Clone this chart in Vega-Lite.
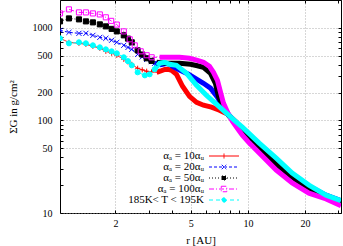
{
"$schema": "https://vega.github.io/schema/vega-lite/v6.json",
"width": 281,
"height": 213,
"autosize": {"type": "none"},
"padding": {"left": 60, "top": 0, "right": 2, "bottom": 33},
"background": "#ffffff",
"config": {
  "font": "Liberation Serif",
  "view": {"stroke": "#000000", "strokeWidth": 1},
  "axis": {"domain": false, "labelFont": "Liberation Serif", "labelFontSize": 10, "labelColor": "#000000", "titleFont": "Liberation Serif", "titleFontSize": 11, "titleFontWeight": "normal", "titleColor": "#000000", "tickColor": "#000000", "gridColor": "#9a9a9a", "gridDash": [1, 2], "gridWidth": 0.8, "labelFlush": false, "labelOverlap": false},
  "legend": {"symbolSize": 100, "symbolStrokeWidth": 1, "labelAlign": "right", "labelOffset": -25.5, "labelFontSize": 11, "labelFont": "Liberation Serif", "labelColor": "#000000", "rowPadding": -1, "padding": 0, "labelLimit": 300}
},
"resolve": {"scale": {"stroke": "independent", "fill": "independent", "shape": "independent", "strokeDash": "independent"}, "axis": {"x": "independent", "y": "independent"}},
"data": {"values": [
{"s":"a","r":1.02,"v":771},{"s":"a","r":1.137,"v":698},{"s":"a","r":1.284,"v":681},{"s":"a","r":1.397,"v":664},{"s":"a","r":1.521,"v":632},{"s":"a","r":1.655,"v":601},{"s":"a","r":1.78,"v":558},{"s":"a","r":1.91,"v":532},{"s":"a","r":2.034,"v":505},{"s":"a","r":2.214,"v":457},{"s":"a","r":2.33,"v":428},{"s":"a","r":2.44,"v":404},{"s":"a","r":2.62,"v":366},{"s":"a","r":2.77,"v":352},{"s":"a","r":2.924,"v":340},{"s":"a","r":3.1,"v":335},{"s":"a","r":3.3,"v":331},{"s":"a","r":3.47,"v":342},{"s":"a","r":3.64,"v":356},{"s":"a","r":3.8,"v":356},{"s":"a","r":3.96,"v":348},{"s":"a","r":4.2,"v":315},{"s":"a","r":4.52,"v":234},{"s":"a","r":4.92,"v":182},{"s":"a","r":5.36,"v":157},{"s":"a","r":5.83,"v":146},{"s":"a","r":6.42,"v":139},{"s":"a","r":7.08,"v":129},{"s":"a","r":7.8,"v":117},{"s":"a","r":8.59,"v":98},{"s":"a","r":9.35,"v":78.5},{"s":"a","r":10.18,"v":65.9},{"s":"a","r":11.48,"v":51.5},{"s":"a","r":14.11,"v":35.5},{"s":"a","r":17.13,"v":25.7},{"s":"a","r":21,"v":19.1},{"s":"a","r":25.85,"v":15.2},{"s":"a","r":31,"v":13.4},
{"s":"b","r":1.02,"v":940},{"s":"b","r":1.137,"v":894},{"s":"b","r":1.284,"v":873},{"s":"b","r":1.397,"v":873},{"s":"b","r":1.521,"v":830},{"s":"b","r":1.655,"v":790},{"s":"b","r":1.78,"v":771},{"s":"b","r":1.91,"v":735},{"s":"b","r":2.034,"v":698},{"s":"b","r":2.214,"v":648},{"s":"b","r":2.33,"v":615},{"s":"b","r":2.44,"v":586},{"s":"b","r":2.62,"v":518},{"s":"b","r":2.77,"v":485},{"s":"b","r":2.924,"v":457},{"s":"b","r":3.1,"v":432},{"s":"b","r":3.22,"v":414},{"s":"b","r":3.47,"v":400},{"s":"b","r":3.7,"v":412},{"s":"b","r":3.86,"v":405},{"s":"b","r":4.01,"v":385},{"s":"b","r":4.36,"v":350},{"s":"b","r":4.86,"v":315},{"s":"b","r":5.36,"v":280},{"s":"b","r":5.83,"v":252},{"s":"b","r":6.35,"v":223},{"s":"b","r":6.91,"v":178},{"s":"b","r":7.34,"v":143},{"s":"b","r":7.8,"v":120},{"s":"b","r":8.38,"v":101},{"s":"b","r":9.35,"v":78.5},{"s":"b","r":10.18,"v":65.9},{"s":"b","r":11.48,"v":52.7},{"s":"b","r":14.11,"v":36.4},{"s":"b","r":17.13,"v":26.3},{"s":"b","r":21,"v":19.5},{"s":"b","r":25.85,"v":15.6},{"s":"b","r":31,"v":13.6},
{"s":"c","r":1.02,"v":1175},{"s":"c","r":1.137,"v":1265},{"s":"c","r":1.284,"v":1235},{"s":"c","r":1.397,"v":1175},{"s":"c","r":1.521,"v":1146},{"s":"c","r":1.655,"v":1091},{"s":"c","r":1.78,"v":1038},{"s":"c","r":1.91,"v":975},{"s":"c","r":2.034,"v":916},{"s":"c","r":2.214,"v":830},{"s":"c","r":2.33,"v":765},{"s":"c","r":2.44,"v":698},{"s":"c","r":2.62,"v":571},{"s":"c","r":2.77,"v":515},{"s":"c","r":2.924,"v":469},{"s":"c","r":3.1,"v":440},{"s":"c","r":3.3,"v":425},{"s":"c","r":3.73,"v":414},{"s":"c","r":4.36,"v":414},{"s":"c","r":4.98,"v":404},{"s":"c","r":5.42,"v":390},{"s":"c","r":5.83,"v":375},{"s":"c","r":6.35,"v":323},{"s":"c","r":6.74,"v":252},{"s":"c","r":6.99,"v":182},{"s":"c","r":7.43,"v":139},{"s":"c","r":7.89,"v":114},{"s":"c","r":8.59,"v":93.3},{"s":"c","r":9.35,"v":74.6},{"s":"c","r":10.18,"v":62.8},{"s":"c","r":11.48,"v":49},{"s":"c","r":14.11,"v":33.7},{"s":"c","r":17.13,"v":24.4},{"s":"c","r":21,"v":18.2},{"s":"c","r":25.85,"v":14.9},{"s":"c","r":31,"v":12.6},
{"s":"d","r":1.02,"v":1432},{"s":"d","r":1.137,"v":1583},{"s":"d","r":1.284,"v":1469},{"s":"d","r":1.397,"v":1469},{"s":"d","r":1.521,"v":1432},{"s":"d","r":1.655,"v":1397},{"s":"d","r":1.78,"v":1300},{"s":"d","r":1.9,"v":1190},{"s":"d","r":2.034,"v":1085},{"s":"d","r":2.214,"v":916},{"s":"d","r":2.38,"v":752},{"s":"d","r":2.529,"v":647},{"s":"d","r":2.72,"v":558},{"s":"d","r":2.924,"v":506},{"s":"d","r":3.107,"v":481},{"s":"d","r":3.42,"v":481},{"s":"d","r":3.86,"v":481},{"s":"d","r":4.36,"v":481},{"s":"d","r":4.92,"v":469},{"s":"d","r":5.42,"v":446},{"s":"d","r":5.83,"v":425},{"s":"d","r":6.27,"v":384},{"s":"d","r":6.58,"v":331},{"s":"d","r":6.91,"v":271},{"s":"d","r":7.17,"v":202},{"s":"d","r":7.43,"v":154},{"s":"d","r":7.8,"v":123},{"s":"d","r":8.28,"v":98},{"s":"d","r":8.8,"v":82.5},{"s":"d","r":9.35,"v":69.3},{"s":"d","r":10.18,"v":56.9},{"s":"d","r":11.48,"v":44.4},{"s":"d","r":14.11,"v":29.1},{"s":"d","r":17.13,"v":21.1},{"s":"d","r":21,"v":16.4},{"s":"d","r":25.85,"v":14.2},{"s":"d","r":31,"v":12},
{"s":"e","r":1.02,"v":771},{"s":"e","r":1.137,"v":681},{"s":"e","r":1.284,"v":698},{"s":"e","r":1.397,"v":681},{"s":"e","r":1.521,"v":648},{"s":"e","r":1.655,"v":616},{"s":"e","r":1.78,"v":586},{"s":"e","r":1.91,"v":558},{"s":"e","r":2.034,"v":531},{"s":"e","r":2.214,"v":481},{"s":"e","r":2.33,"v":437},{"s":"e","r":2.44,"v":394},{"s":"e","r":2.62,"v":331},{"s":"e","r":2.86,"v":307},{"s":"e","r":3.03,"v":315},{"s":"e","r":3.22,"v":357},{"s":"e","r":3.42,"v":414},{"s":"e","r":3.64,"v":425},{"s":"e","r":3.86,"v":404},{"s":"e","r":4.2,"v":394},{"s":"e","r":4.75,"v":323},{"s":"e","r":5.36,"v":240},{"s":"e","r":6.04,"v":187},{"s":"e","r":6.82,"v":150},{"s":"e","r":7.7,"v":120},{"s":"e","r":8.5,"v":100},{"s":"e","r":9.35,"v":84.6},{"s":"e","r":11.48,"v":56.9},{"s":"e","r":14.11,"v":39.2},{"s":"e","r":17.13,"v":27},{"s":"e","r":21,"v":20},{"s":"e","r":25.85,"v":15.6},{"s":"e","r":31,"v":13.6}
]},
"layer": [
 {
  "mark": {"type": "line", "strokeWidth": 1, "clip": true},
  "encoding": {
   "x": {"field": "r", "type": "quantitative", "scale": {"type": "log", "domain": [1.02, 31]},
         "axis": {"orient": "bottom", "title": "r [AU]", "values": [2,5,10,20], "format": "d", "ticks": false, "grid": true, "labelPadding": 5, "titlePadding": 6}},
   "y": {"field": "v", "type": "quantitative", "scale": {"type": "log", "domain": [10, 2000]},
         "axis": {"orient": "left", "title": "ΣG in g/cm²", "values": [10,50,100,200,500,1000], "format": "d", "ticks": false, "grid": true, "labelPadding": 8, "titlePadding": 14}},
   "stroke": {"field": "s", "type": "nominal", "scale": {"domain": ["a","b","c","d","e"], "range": ["#ff0000","#0000ff","#000000","#ff00ff","#00ffff"]}, "legend": null},
   "strokeDash": {"field": "s", "type": "nominal", "scale": {"domain": ["a","b","c","d","e"], "range": [[1,0],[3,2],[1,2],[5,2,1,2],[4,3]]}, "legend": null}
  }
 },
 {
  "transform": [{"filter": "datum.r >= 3.2"}],
  "mark": {"type": "line", "strokeWidth": 5, "clip": true},
  "encoding": {
   "x": {"field": "r", "type": "quantitative", "scale": {"type": "log", "domain": [1.02, 31]},
         "axis": {"orient": "bottom", "title": null, "labels": false, "grid": false, "values": [2,3,4,5,6,7,8,9,10,20,30], "tickSize": -3}},
   "y": {"field": "v", "type": "quantitative", "scale": {"type": "log", "domain": [10, 2000]},
         "axis": {"orient": "left", "title": null, "labels": false, "grid": false, "values": [10,20,30,40,50,60,70,80,90,100,200,300,400,500,600,700,800,900,1000,2000], "tickSize": -3}},
   "stroke": {"field": "s", "type": "nominal", "scale": {"domain": ["a","b","c","d","e"], "range": ["#ff0000","#0000ff","#000000","#ff00ff","#00ffff"]}, "legend": null}
  }
 },
 {
  "transform": [{"filter": "datum.r < 3.25"}],
  "mark": {"type": "point", "filled": true, "opacity": 1, "strokeWidth": 1, "size": 26, "clip": true},
  "encoding": {
   "x": {"field": "r", "type": "quantitative", "scale": {"type": "log", "domain": [1.02, 31]},
         "axis": {"orient": "top", "title": null, "labels": false, "grid": false, "values": [2,3,4,5,6,7,8,9,10,20,30], "tickSize": -3}},
   "y": {"field": "v", "type": "quantitative", "scale": {"type": "log", "domain": [10, 2000]},
         "axis": {"orient": "right", "title": null, "labels": false, "grid": false, "values": [10,20,30,40,50,60,70,80,90,100,200,300,400,500,600,700,800,900,1000,2000], "tickSize": -3}},
   "stroke": {"field": "s", "type": "nominal", "scale": {"domain": ["a","b","c","d","e"], "range": ["#ff0000","#0000ff","#000000","#ff00ff","#00ffff"]}, "legend": null},
   "fill": {"field": "s", "type": "nominal", "scale": {"domain": ["a","b","c","d","e"], "range": ["transparent","transparent","#000000","transparent","#00ffff"]}, "legend": null},
   "shape": {"field": "s", "type": "nominal", "scale": {"domain": ["a","b","c","d","e"], "range": ["M-1,0H1M0,-1V1","M-1,-1L1,1M-1,1L1,-1","square","square","circle"]}, "legend": null}
  }
 },
 {
  "transform": [{"filter": "false"}],
  "mark": {"type": "point", "filled": true, "opacity": 1, "strokeWidth": 1},
  "encoding": {
   "x": {"field": "r", "type": "quantitative", "scale": {"type": "log", "domain": [1.02, 31]}, "axis": null},
   "y": {"field": "v", "type": "quantitative", "scale": {"type": "log", "domain": [10, 2000]}, "axis": null},
   "stroke": {"field": "s", "type": "nominal", "scale": {"domain": ["a","b","c","d","e"], "range": ["#ff0000","#0000ff","#000000","#ff00ff","#00ffff"]},
      "legend": {"title": null, "orient": "none", "legendX": 158.5, "legendY": 150.5, "labelExpr": "datum.label == 'a' ? 'αₐ = 10αᵤ' : datum.label == 'b' ? 'αₐ = 20αᵤ' : datum.label == 'c' ? 'αₐ = 50αᵤ' : datum.label == 'd' ? 'αₐ = 100αᵤ' : '185K< T < 195K'"}},
   "fill": {"field": "s", "type": "nominal", "scale": {"domain": ["a","b","c","d","e"], "range": ["transparent","transparent","#000000","transparent","#00ffff"]},
      "legend": {"title": null, "orient": "none", "legendX": 158.5, "legendY": 150.5, "labelExpr": "datum.label == 'a' ? 'αₐ = 10αᵤ' : datum.label == 'b' ? 'αₐ = 20αᵤ' : datum.label == 'c' ? 'αₐ = 50αᵤ' : datum.label == 'd' ? 'αₐ = 100αᵤ' : '185K< T < 195K'"}},
   "shape": {"field": "s", "type": "nominal", "scale": {"domain": ["a","b","c","d","e"], "range": ["M-3,0H3M0,-0.5V0.5","M-3,0H3M-0.45,-0.45L0.45,0.45M-0.45,0.45L0.45,-0.45","M-3,0H3M-0.4,-0.4H0.4V0.4H-0.4Z","M-3,0H3M-0.55,-0.55H0.55V0.55H-0.55Z","M-3,0H3M0.45,0A0.45,0.45,0,1,1,-0.45,0A0.45,0.45,0,1,1,0.45,0Z"]},
      "legend": {"title": null, "orient": "none", "legendX": 158.5, "legendY": 150.5, "labelExpr": "datum.label == 'a' ? 'αₐ = 10αᵤ' : datum.label == 'b' ? 'αₐ = 20αᵤ' : datum.label == 'c' ? 'αₐ = 50αᵤ' : datum.label == 'd' ? 'αₐ = 100αᵤ' : '185K< T < 195K'"}},
   "strokeDash": {"field": "s", "type": "nominal", "scale": {"domain": ["a","b","c","d","e"], "range": [[1,0],[3,2],[1,2],[5,2,1,2],[4,3]]},
      "legend": {"title": null, "orient": "none", "legendX": 158.5, "legendY": 150.5, "labelExpr": "datum.label == 'a' ? 'αₐ = 10αᵤ' : datum.label == 'b' ? 'αₐ = 20αᵤ' : datum.label == 'c' ? 'αₐ = 50αᵤ' : datum.label == 'd' ? 'αₐ = 100αᵤ' : '185K< T < 195K'"}}
  }
 }
]
}
